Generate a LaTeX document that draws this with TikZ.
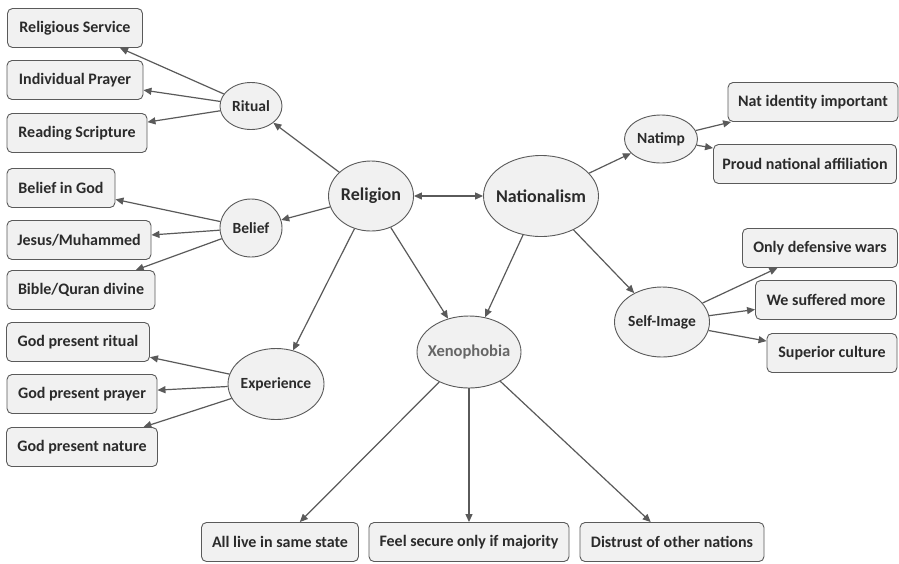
\documentclass[tikz,border=0pt]{standalone}
\usepackage{fontspec}
\setmainfont{Carlito}
\usetikzlibrary{shapes.geometric,arrows.meta}
\definecolor{edgec}{HTML}{5A5A5A}
\definecolor{fillc}{HTML}{F1F1F1}
\definecolor{txtc}{HTML}{2B2B2B}
\newcommand{\zb}[1]{\makebox[0pt][c]{#1}}
\tikzset{
  box/.style={draw=edgec, line width=0.9pt, fill=fillc, rounded corners=5pt,
    minimum height=39pt, inner sep=0pt, text=txtc, font=\fontsize{16}{18}\selectfont\bfseries},
  ell/.style={ellipse, draw=edgec, line width=0.9pt, fill=fillc, inner sep=0pt,
    text=txtc, font=\fontsize{15.5}{17}\selectfont\bfseries},
  arr/.style={draw=edgec, line width=1.2pt, -{Triangle[length=8pt,width=7pt]}},
  barr/.style={draw=edgec, line width=1.2pt, {Triangle[length=8pt,width=7pt]}-{Triangle[length=8pt,width=7pt]}}
}
\begin{document}
\begin{tikzpicture}[x=1pt,y=-1pt]
\useasboundingbox[fill=white] (0,0) rectangle (899,563);
% ellipses
\node[ell, minimum width=62pt, minimum height=47pt] (ritual) at (251,106) {\zb{Ritual}};
\node[ell, minimum width=62pt, minimum height=58pt] (belief) at (251,228) {\zb{Belief}};
\node[ell, minimum width=96pt, minimum height=71pt] (exper) at (276,384) {\zb{Experience}};
\node[ell, minimum width=85pt, minimum height=70pt, font=\fontsize{18}{20}\selectfont\bfseries] (relig) at (371,196) {\zb{Religion}};
\node[ell, minimum width=115pt, minimum height=81pt, font=\fontsize{18}{20}\selectfont\bfseries] (nation) at (541,196) {\zb{Nationalism}};
\node[ell, minimum width=104pt, minimum height=72pt, text=black!60, font=\fontsize{16.5}{18}\selectfont\bfseries] (xeno) at (469,352) {\zb{Xenophobia}};
\node[ell, minimum width=73pt, minimum height=48pt] (natimp) at (661,139) {\zb{Natimp}};
\node[ell, minimum width=95pt, minimum height=70pt] (selfimg) at (662,322) {\zb{Self-Image}};
% boxes
\node[box, minimum width=135pt] (relserv) at (75,28) {Religious Service};
\node[box, minimum width=136pt] (indpray) at (75,80) {Individual Prayer};
\node[box, minimum width=140pt] (readscr) at (77,133) {Reading Scripture};
\node[box, minimum width=108pt] (belgod) at (61,188) {Belief in God};
\node[box, minimum width=144pt] (jesus) at (79,240) {Jesus/Muhammed};
\node[box, minimum width=148pt] (bible) at (81,290) {Bible/Quran divine};
\node[box, minimum width=143pt] (gpritual) at (78,342) {God present ritual};
\node[box, minimum width=150pt] (gpprayer) at (82,394) {God present prayer};
\node[box, minimum width=151pt] (gpnature) at (82,447) {God present nature};
\node[box, minimum width=170pt] (natid) at (813,102) {Nat identity important};
\node[box, minimum width=183pt] (proud) at (805,164) {Proud national affiliation};
\node[box, minimum width=155pt] (defwars) at (820,248) {Only defensive wars};
\node[box, minimum width=141pt] (suffered) at (826,300) {We suffered more};
\node[box, minimum width=130pt] (superior) at (832,353) {Superior culture};
\node[box, minimum width=157pt] (alllive) at (280,542) {All live in same state};
\node[box, minimum width=200pt] (secure) at (469,542) {Feel secure only if majority};
\node[box, minimum width=184pt] (distrust) at (672,542) {Distrust of other nations};
% connectors
\draw[arr] (ritual) -- (relserv);
\draw[arr] (ritual) -- (indpray);
\draw[arr] (ritual) -- (readscr);
\draw[arr] (belief) -- (belgod);
\draw[arr] (belief) -- (jesus);
\draw[arr] (belief) -- (bible);
\draw[arr] (exper) -- (gpritual);
\draw[arr] (exper) -- (gpprayer);
\draw[arr] (exper) -- (gpnature);
\draw[arr] (relig) -- (ritual);
\draw[arr] (relig) -- (belief);
\draw[arr] (relig) -- (exper);
\draw[arr] (relig) -- (xeno);
\draw[barr] (relig) -- (nation);
\draw[arr] (nation) -- (xeno);
\draw[arr] (nation) -- (natimp);
\draw[arr] (nation) -- (selfimg);
\draw[arr] (natimp) -- (natid);
\draw[arr] (natimp) -- (proud);
\draw[arr] (selfimg) -- (defwars);
\draw[arr] (selfimg) -- (suffered);
\draw[arr] (selfimg) -- (superior);
\draw[arr] (xeno) -- (alllive);
\draw[arr] (xeno) -- (secure);
\draw[arr] (xeno) -- (distrust);
\end{tikzpicture}
\end{document}
